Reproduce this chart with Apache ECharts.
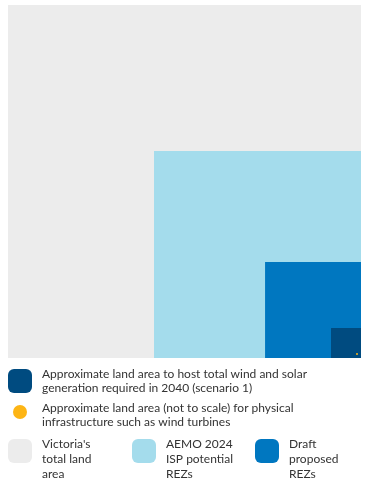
<!DOCTYPE html>
<html>
<head>
<meta charset="utf-8">
<script src="https://cdn.jsdelivr.net/npm/echarts@6/dist/echarts.min.js"></script>
<style>
  html, body { margin: 0; padding: 0; background: #fff; }
  #chart { width: 376px; height: 483px; }
</style>
</head>
<body>
<div id="chart"></div>
<script>
const categories = ['Victoria', 'ISP REZs', 'Draft REZs', 'Wind and solar 2040', 'Infrastructure'];
const areas = [227444, 78200, 16800, 1640];
const infraArea = [12];
const legendLabels = [
  ["Victoria's", 'total land', 'area'],
  ['AEMO 2024', 'ISP potential', 'REZs'],
  ['Draft', 'proposed', 'REZs'],
  ['Approximate land area to host total wind and solar', 'generation required in 2040 (scenario 1)'],
  ['Approximate land area (not to scale) for physical', 'infrastructure such as wind turbines']
];
const colors = ['#ececec', '#a4dcec', '#0077c0', '#004b80', '#fdb515'];

const sideMax = Math.sqrt(areas[0]);
const font = 'Lato';

const squareItem = (params, api) => {
  const side = Math.sqrt(api.value(0));
  const tl = api.coord([sideMax - side, side]);
  const br = api.coord([sideMax, 0]);
  return {
    type: 'rect',
    shape: { x: tl[0], y: tl[1], width: br[0] - tl[0], height: br[1] - tl[1] },
    style: api.style()
  };
};

const dotItem = (params, api) => {
  const corner = api.coord([sideMax, 0]);
  return {
    type: 'circle',
    shape: { cx: corner[0] - 4, cy: corner[1] - 4, r: 1 },
    style: api.style()
  };
};

const series = areas.map((a, i) => ({
  type: 'custom',
  name: categories[i],
  renderItem: squareItem,
  itemStyle: { color: colors[i] },
  data: [[a]]
}));
series.push({
  type: 'custom',
  name: categories[4],
  renderItem: dotItem,
  itemStyle: { color: colors[4] },
  data: [[infraArea[0]]]
});

// legend text as rich lines so it can be nudged away from the icon
const richText = (name, gap) => {
  const lines = legendLabels[categories.indexOf(name)].map(l => '{t|' + l + '}');
  return (gap ? '{g| }\n' : '') + lines.join('\n');
};

const legendItem = (left, top, idx, opts) => {
  opts = opts || {};
  const lh = opts.lineHeight || 14;
  return {
    orient: 'vertical',
    left: left,
    top: top,
    padding: 0,
    itemWidth: opts.size || 24,
    itemHeight: opts.size || 24,
    itemGap: 0,
    selectedMode: false,
    icon: opts.icon || 'roundRect',
    data: [categories[idx]],
    formatter: name => richText(name, opts.gap),
    textStyle: {
      fontFamily: font,
      fontSize: 12,
      color: '#333',
      lineHeight: lh,
      rich: {
        t: { fontFamily: font, fontSize: 12, color: '#333', lineHeight: lh, padding: [0, 0, 0, opts.indent || 5] },
        g: { fontSize: 1, lineHeight: opts.gap || 0 }
      }
    }
  };
};

const chart = echarts.init(document.getElementById('chart'));
chart.setOption({
  animation: false,
  grid: { left: 8, top: 5, width: 353, height: 353 },
  xAxis: { type: 'value', min: 0, max: sideMax, show: false },
  yAxis: { type: 'value', min: 0, max: sideMax, show: false },
  legend: [
    legendItem(8, 367, 3),
    legendItem(13, 395, 4, { icon: 'circle', size: 14, indent: 10, gap: 6 }),
    legendItem(8, 420, 0, { lineHeight: 15, gap: 17 }),
    legendItem(132, 420, 1, { lineHeight: 15, gap: 17 }),
    legendItem(255, 420, 2, { lineHeight: 15, gap: 17 })
  ],
  series: series
});
</script>
</body>
</html>
